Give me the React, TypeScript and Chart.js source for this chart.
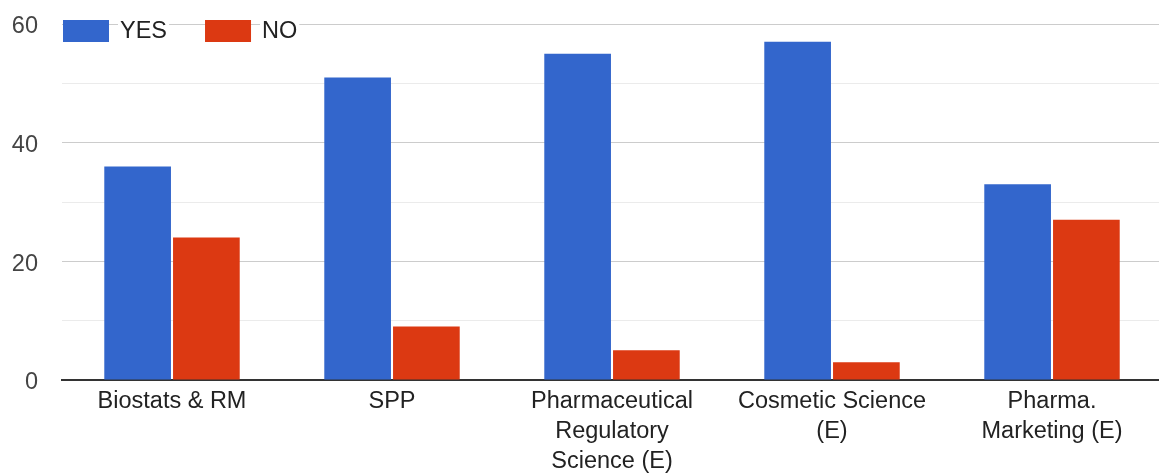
import React, { useEffect, useRef } from "react";
import { Chart, registerables } from "chart.js";

Chart.register(...registerables);

const categories: (string | string[])[] = [
  "Biostats & RM",
  "SPP",
  ["Pharmaceutical", "Regulatory", "Science (E)"],
  ["Cosmetic Science", "(E)"],
  ["Pharma.", "Marketing (E)"],
];
const yesValues = [36, 51, 55, 57, 33];
const noValues = [24, 9, 5, 3, 27];
const seriesNames = ["YES", "NO"];
const seriesColors = ["#3366CC", "#DC3912"];
const yMin = 0;
const yMax = 60;
const yStep = 10;
const labelEvery = 20;

const FONT = "'Liberation Sans', Arial, sans-serif";
const FONT_SIZE = 23.5;

const legendPlugin = {
  id: "customLegend",
  afterDraw(chart: any) {
    const ctx = chart.ctx;
    ctx.save();
    ctx.font = `${FONT_SIZE}px ${FONT}`;
    ctx.textBaseline = "middle";
    ctx.textAlign = "left";
    let x = 63;
    const yTop = 20;
    const boxW = 46;
    const boxH = 22;
    const cy = yTop + boxH / 2;
    seriesNames.forEach((name, i) => {
      ctx.fillStyle = seriesColors[i];
      ctx.fillRect(x, yTop, boxW, boxH);
      const tx = x + boxW + 11;
      const tw = ctx.measureText(name).width;
      ctx.fillStyle = "#ffffff";
      ctx.fillRect(tx - 2, yTop - 2, tw + 4, boxH + 4);
      ctx.fillStyle = "#222222";
      ctx.fillText(name, tx, cy + 1);
      x = tx + tw + 38;
    });
    ctx.restore();
  },
};

export default function App() {
  const canvasRef = useRef<HTMLCanvasElement | null>(null);

  useEffect(() => {
    if (!canvasRef.current) return;
    const chart = new Chart(canvasRef.current, {
      type: "bar",
      data: {
        labels: categories,
        datasets: [
          {
            label: seriesNames[0],
            data: yesValues,
            backgroundColor: seriesColors[0],
            categoryPercentage: 0.625,
            barPercentage: 0.97,
          },
          {
            label: seriesNames[1],
            data: noValues,
            backgroundColor: seriesColors[1],
            categoryPercentage: 0.625,
            barPercentage: 0.97,
          },
        ],
      },
      options: {
        responsive: false,
        animation: false,
        layout: { padding: { top: 24, left: 0, right: 0, bottom: 0 } },
        plugins: {
          legend: { display: false },
          tooltip: { enabled: false },
        },
        scales: {
          x: {
            grid: { display: false, drawTicks: false, tickLength: 0 },
            border: { display: true, color: "#333333", width: 2 },
            ticks: {
              autoSkip: false,
              maxRotation: 0,
              minRotation: 0,
              padding: 7,
              color: "#222222",
              font: { family: FONT, size: FONT_SIZE, lineHeight: 30 / FONT_SIZE },
            },
            afterFit: (scale: any) => {
              scale.height = 94;
            },
          },
          y: {
            min: yMin,
            max: yMax,
            grid: {
              drawTicks: false,
              tickLength: 0,
              color: (c: any) =>
                c.tick && c.tick.value % labelEvery === 0 ? "#cccccc" : "#ebebeb",
              lineWidth: 1,
            },
            border: { display: false },
            ticks: {
              stepSize: yStep,
              padding: 24,
              labelOffset: 3,
              color: "#444444",
              font: { family: FONT, size: FONT_SIZE },
              callback: (v: any) => (Number(v) % labelEvery === 0 ? String(v) : ""),
            },
            afterFit: (scale: any) => {
              scale.width = 62;
              scale.paddingTop = 0;
              scale.paddingBottom = 0;
            },
          },
        },
      },
      plugins: [legendPlugin],
    });
    return () => chart.destroy();
  }, []);

  return (
    <div
      style={{
        position: "absolute",
        left: 0,
        top: 0,
        width: 1159,
        height: 474,
        overflow: "hidden",
        background: "#ffffff",
      }}
    >
      <canvas ref={canvasRef} width={1162} height={474} style={{ display: "block" }} />
    </div>
  );
}
